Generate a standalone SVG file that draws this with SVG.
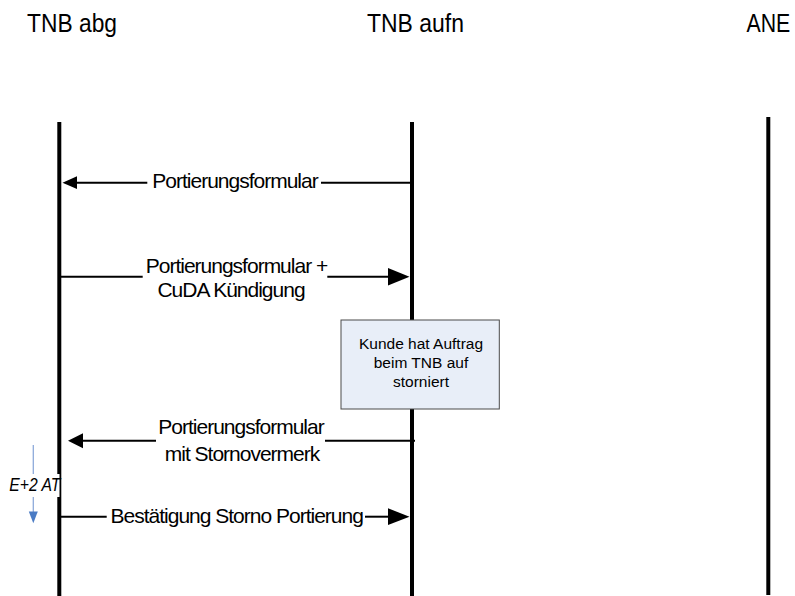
<svg xmlns="http://www.w3.org/2000/svg" width="795" height="596" viewBox="0 0 795 596">
<style>
text{font-family:"Liberation Sans",Arial,sans-serif;fill:#000}
.hdr{font-size:26px}
.lbl{font-size:21px;letter-spacing:-1px;text-anchor:middle}
.box{font-size:15.5px;text-anchor:middle}
.life{stroke:#000;stroke-width:4;fill:none}
.msg{stroke:#000;stroke-width:2;fill:none}
.head{fill:#000;stroke:none}
</style>
<rect width="795" height="596" fill="#fff"/>
<g id="lifelines">
<g id="tnb-abg"><text class="hdr" x="27" y="32.3" textLength="90" lengthAdjust="spacingAndGlyphs">TNB abg</text><line class="life" x1="59.3" y1="122" x2="59.3" y2="596"/></g>
<g id="tnb-aufn"><text class="hdr" x="367" y="32.3" textLength="97" lengthAdjust="spacingAndGlyphs">TNB aufn</text><line class="life" x1="412" y1="122" x2="412" y2="596"/></g>
<g id="ane"><text class="hdr" transform="translate(746.5,32.3) scale(0.82,1)" x="0" y="0">ANE</text><line class="life" x1="768.3" y1="117" x2="768.3" y2="595"/></g>
</g>
<g id="note">
<rect x="341" y="320" width="158.3" height="89" fill="#e8eef8" stroke="#4a4a4a" stroke-width="1"/>
<text class="box" x="421" y="349.3">Kunde hat Auftrag</text>
<text class="box" x="421" y="368.3">beim TNB auf</text>
<text class="box" x="421" y="387.3">storniert</text>
</g>
<g id="connectors">
<g id="m1"><line class="msg" x1="412" y1="182.7" x2="321" y2="182.7"/><line class="msg" x1="147.3" y1="182.7" x2="76" y2="182.7"/><polygon class="head" points="62.5,182.7 77,176.3 77,189.1"/><text class="lbl" x="235" y="188.3">Portierungsformular</text></g>
<g id="m2"><line class="msg" x1="60" y1="276.7" x2="142.7" y2="276.7"/><line class="msg" x1="327.3" y1="276.7" x2="390" y2="276.7"/><polygon class="head" points="409.5,276.7 388,268 388,285.4"/><text class="lbl" x="236.5" y="272.7">Portierungsformular +</text><text class="lbl" x="231" y="296.7" letter-spacing="-0.4">CuDA Kündigung</text></g>
<g id="m3"><line class="msg" x1="415" y1="440.7" x2="325" y2="440.7"/><line class="msg" x1="156" y1="440.7" x2="82" y2="440.7"/><polygon class="head" points="68,440.7 83,433.2 83,448.2"/><text class="lbl" x="241" y="434">Portierungsformular</text><text class="lbl" x="242" y="461">mit Stornovermerk</text></g>
<g id="m4"><line class="msg" x1="60" y1="516.7" x2="106.7" y2="516.7"/><line class="msg" x1="365" y1="516.7" x2="389" y2="516.7"/><polygon class="head" points="409.5,516.7 388,508.3 388,525.1"/><text class="lbl" x="236.7" y="523.3">Bestätigung Storno Portierung</text></g>
<g id="timer"><line x1="33.3" y1="445" x2="33.3" y2="512" stroke="#8eaadb" stroke-width="1.3"/><polygon points="33.3,523.3 28.8,511.5 37.8,511.5" fill="#4a7bc4"/><rect x="8" y="474" width="51.5" height="23" fill="#fff"/><text x="9.3" y="490.7" font-size="18.5" font-style="italic" textLength="51" lengthAdjust="spacingAndGlyphs">E+2 AT</text></g>
</g>
</svg>
